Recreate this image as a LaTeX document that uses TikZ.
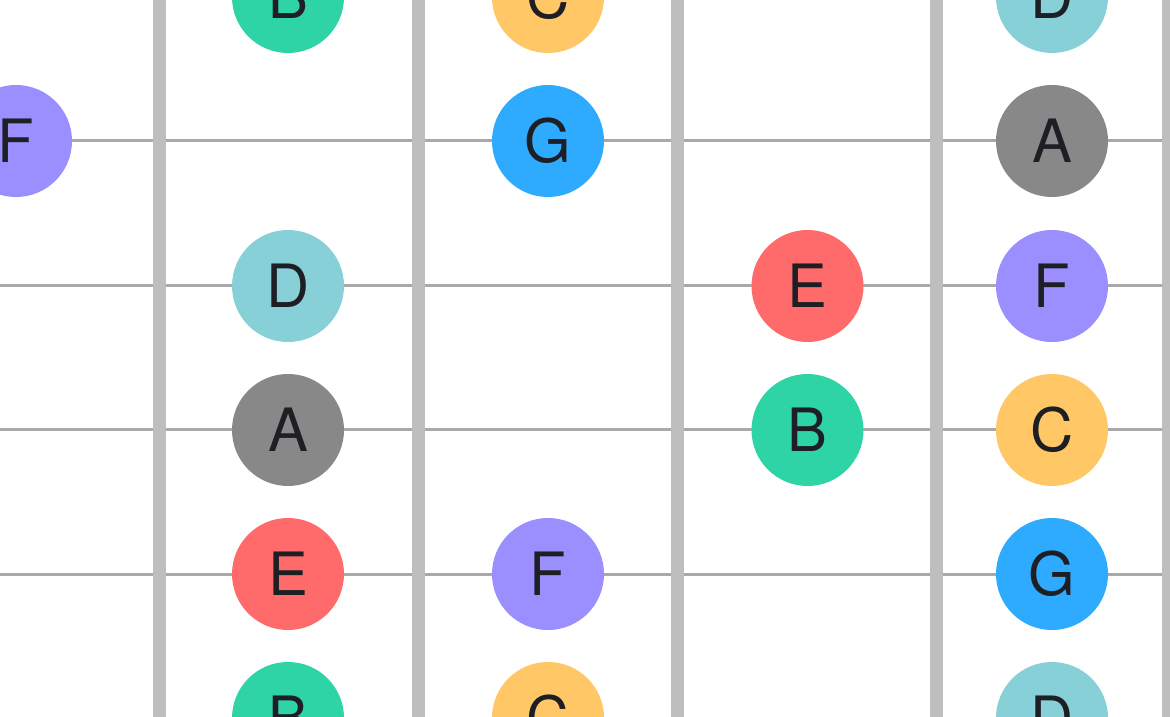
\documentclass[tikz,border=0pt]{standalone}
\usepackage{fontspec}
\setmainfont{TeX Gyre Heros}
\definecolor{fretgray}{HTML}{BEBEBE}
\definecolor{stringgray}{HTML}{A9A9A9}
\definecolor{inkdark}{HTML}{1E1F24}
\definecolor{noteA}{HTML}{888888}
\definecolor{noteB}{HTML}{2ED3A6}
\definecolor{noteC}{HTML}{FFC766}
\definecolor{noteD}{HTML}{88D0D8}
\definecolor{noteE}{HTML}{FF6B6B}
\definecolor{noteF}{HTML}{9B8EFF}
\definecolor{noteG}{HTML}{2EABFF}
\tikzset{
  note/.style={circle,minimum size=22.4mm,inner sep=0pt,text=inkdark,
    font=\fontsize{34pt}{40pt}\selectfont},
  fretline/.style={draw=fretgray,line width=2.7mm},
  stringline/.style={draw=stringgray,line width=0.6mm}
}
\begin{document}
\begin{tikzpicture}[x=0.2mm,y=-0.2mm]
\clip (0,0) rectangle (1170,717);
\fill[white] (0,0) rectangle (1170,717);
\foreach \y in {-3,141,286,430,574,718} \draw[stringline] (0,\y)--(1170,\y);
\foreach \x in {159.5,418.5,677.5,936.7,1168.5} \draw[fretline] (\x,-10)--(\x,730);
\node[note,fill=noteF] (f0) at (16,141) {F};
\node[note,fill=noteB] (b1top) at (288,-3) {B};
\node[note,fill=noteD] (d1) at (288,286) {D};
\node[note,fill=noteA] (a1) at (288,430) {A};
\node[note,fill=noteE] (e1) at (288,574) {E};
\node[note,fill=noteB] (b1bot) at (288,718) {B};
\node[note,fill=noteC] (c2top) at (548,-3) {C};
\node[note,fill=noteG] (g2) at (548,141) {G};
\node[note,fill=noteF] (f2) at (548,574) {F};
\node[note,fill=noteC] (c2bot) at (548,718) {C};
\node[note,fill=noteE] (e3) at (807.5,286) {E};
\node[note,fill=noteB] (b3) at (807.5,430) {B};
\node[note,fill=noteD] (d4top) at (1052,-3) {D};
\node[note,fill=noteA] (a4) at (1052,141) {A};
\node[note,fill=noteF] (f4) at (1052,286) {F};
\node[note,fill=noteC] (c4) at (1052,430) {C};
\node[note,fill=noteG] (g4) at (1052,574) {G};
\node[note,fill=noteD] (d4bot) at (1052,718) {D};
\end{tikzpicture}
\end{document}
